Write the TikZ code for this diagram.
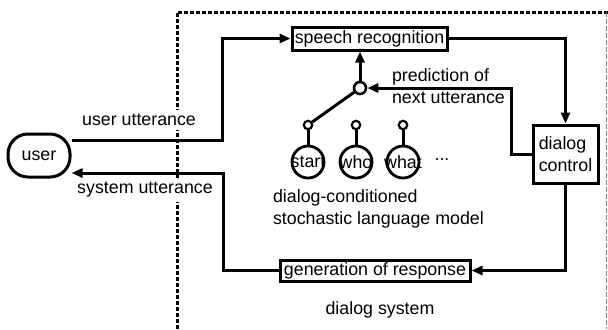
\documentclass[tikz,border=0pt]{standalone}
\usepackage{fontspec}
\setmainfont{Liberation Sans}
\usetikzlibrary{arrows.meta}
\begin{document}
\begin{tikzpicture}[x=0.5pt,y=-0.5pt]
		\tikzset{txt/.style={font=\fontsize{8.9}{11}\selectfont},
			box/.style={txt, draw, line width=1.5pt, inner sep=0pt, minimum height=11pt},
			conn/.style={line width=1.5pt, -{Triangle[length=5.5pt,width=4.5pt]}},
			wire/.style={line width=1.5pt},
			lm/.style={circle, draw, line width=1.4pt, minimum size=16pt, inner sep=0pt},
			knob/.style={circle, draw, line width=1.1pt, minimum size=4.2pt, inner sep=0pt},
			lbl/.style={txt, fill=white, inner sep=2pt}}
		\useasboundingbox (0,0) rectangle (608,329);
		\draw[line width=1.5pt, dash pattern=on 2.2pt off 0.8pt] (177,329) -- (177,12) -- (608,12);
		\draw[gray, line width=0.5pt, dash pattern=on 2.5pt off 1pt] (606,12) -- (606,329);
		\node[txt, draw, line width=1.5pt, rounded corners=10pt, minimum width=31pt, minimum height=21.5pt, inner sep=0pt] (user) at (39,155.5) {user};
		\node[box, minimum width=77.5pt, minimum height=11.5pt] (sr) at (369.5,38.5) {speech recognition};
		\node[box, minimum width=32.5pt, minimum height=29pt, align=left] (dc) at (565.5,154) {dialog\\control};
		\node[box, minimum width=95pt, minimum height=10.5pt] (gen) at (375,270.5) {generation of response};
		\node[knob, minimum size=6pt, line width=1.3pt] (sw) at (360,88) {};
		\node[lm, label={[txt]center:start}] (start) at (308,162) {};
		\node[lm, label={[txt]center:who}] (who) at (356,162) {};
		\node[lm, label={[txt]center:what}] (what) at (403,162) {};
		\node[knob] (k1) at (308,125) {};
		\node[knob] (k2) at (356,125) {};
		\node[knob] (k3) at (403,125) {};
		\node[txt] (dots) at (442,160) {...};
		\node[txt, anchor=west, align=left] (lmtxt) at (266,209) {dialog-conditioned\\stochastic language model};
		\node[txt, anchor=west, align=left] (pred) at (385,86) {prediction of\\next utterance};
		\node[txt] (dsys) at (380,310) {dialog system};
		\draw[wire] (k1) -- (start);
		\draw[wire] (k2) -- (who);
		\draw[wire] (k3) -- (what);
		\draw[wire] (sw) -- (k1);
		\draw[conn] ([yshift=7.75pt]user.east) -- (222,140) |- (sr.west);
		\draw[conn] (sr.east) -| (dc.north);
		\draw[conn] (dc.west) -- (511,154) |- (sw.east);
		\draw[conn] (sw) -- (sw |- sr.south);
		\draw[conn] (dc.south) |- (gen.east);
		\draw[conn] (gen.west) -- (223,270.5) |- ([yshift=-8.75pt]user.east);
		\node[lbl] (uutt) at (139,120) {user utterance};
		\node[lbl] (sutt) at (145,190) {system utterance};
	\end{tikzpicture}
\end{document}
